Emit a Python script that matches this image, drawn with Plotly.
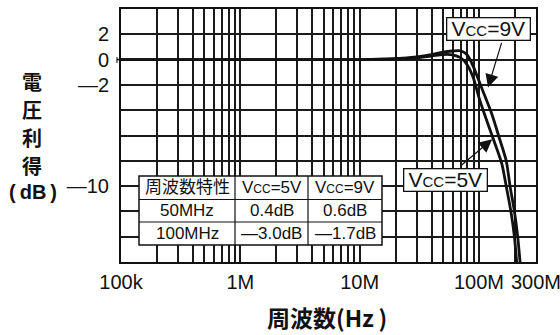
import plotly.graph_objects as go
import numpy as np

# Frequency response data (Hz, dB)
freq_5v = [1e5, 1e6, 1e7, 2e7, 3e7, 4e7, 5e7, 6e7, 7e7, 8e7, 9e7, 1e8,
           1.12e8, 1.32e8, 1.55e8, 1.69e8, 1.85e8, 1.98e8, 2.07e8, 2.15e8]
gain_5v = [0, 0, 0, 0.05, 0.15, 0.28, 0.4, 0.38, 0.15, -0.45, -1.5, -3.0,
           -4.4, -6.3, -8.2, -10.0, -12.0, -14.0, -16.0, -17.5]

freq_9v = [1e5, 1e6, 1e7, 2e7, 3e7, 4e7, 5e7, 6e7, 7e7, 8e7, 9e7, 1e8,
           1.08e8, 1.28e8, 1.48e8, 1.69e8, 1.82e8, 1.98e8, 2.11e8, 2.21e8, 2.3e8]
gain_9v = [0, 0, 0, 0.08, 0.22, 0.4, 0.6, 0.68, 0.7, 0.35, -0.6, -1.7,
           -2.5, -4.3, -6.2, -8.0, -10.0, -12.0, -14.0, -16.0, -17.5]

x_tick_values = [1e5, 1e6, 1e7, 1e8, 3e8]
x_tick_labels = ["100k", "1M", "10M", "100M", "300M"]
y_tick_values = [2, 0, -2, -10]
y_tick_labels = ["2", "0", "—2", "—10"]
y_title_chars = ["電", "圧", "利", "得"]

table_header = ["周波数特性", "V<span style='font-size:12px'>CC</span>=5V",
                "V<span style='font-size:12px'>CC</span>=9V"]
table_rows = [["50MHz", "0.4dB", "0.6dB"],
              ["100MHz", "—3.0dB", "—1.7dB"]]

W, H = 560, 335
L, R, T, B = 121, 24, 9, 73
PW, PH = W - L - R, H - T - B


def px(x):
    return (x - L) / PW


def py(y):
    return (H - B - y) / PH


INK = "#111111"
LATIN = "Liberation Sans, Arial, Noto Sans CJK JP"

fig = go.Figure()
for f, g in [(freq_5v, gain_5v), (freq_9v, gain_9v)]:
    fig.add_trace(go.Scatter(x=f, y=g, mode="lines",
                             line=dict(color=INK, width=2.8, shape="spline", smoothing=0.8),
                             showlegend=False, hoverinfo="skip"))

# log grid: every 1..9 multiple in each decade
grid_vals, grid_text = [], []
for d in range(5, 9):
    for m in range(1, 10):
        v = m * 10 ** d
        if v > 3e8 + 1:
            break
        grid_vals.append(v)
        grid_text.append(x_tick_labels[x_tick_values.index(v)] if v in x_tick_values else "")

y_grid = list(range(-16, 5, 2))
y_text = [y_tick_labels[y_tick_values.index(v)] if v in y_tick_values else "" for v in y_grid]

fig.update_xaxes(type="log", range=[5, np.log10(3e8) + 0.0005], tickvals=grid_vals, ticktext=grid_text,
                 showgrid=True, gridcolor="#1a1a1a", gridwidth=1.5,
                 showline=True, linecolor=INK, linewidth=2, mirror=True,
                 ticks="", ticklabelstandoff=1, ticklabeloverflow="allow", automargin=False,
                 tickfont=dict(family=LATIN, size=20, color=INK), zeroline=False)
fig.update_yaxes(range=[-16, 4], tickvals=y_grid, ticktext=y_text,
                 showgrid=True, gridcolor="#1a1a1a", gridwidth=1.5,
                 showline=True, linecolor=INK, linewidth=2, mirror=True,
                 ticks="", ticklabelstandoff=6, automargin=False,
                 tickfont=dict(family=LATIN, size=20, color=INK), zeroline=False)

shapes = []
# small lead-in mark at 0 dB
shapes.append(dict(type="line", xref="paper", yref="y", x0=px(116.5), x1=px(121), y0=0, y1=0,
                   line=dict(color=INK, width=1.5)))
shapes.append(dict(type="line", xref="paper", yref="paper", x0=px(117), x1=px(117),
                   y0=py(57), y1=py(63), line=dict(color=INK, width=1)))

# table frame
col_edges = [139, 235, 308, 382]
row_edges = [176, 199.5, 222, 245]
shapes.append(dict(type="rect", xref="paper", yref="paper",
                   x0=px(col_edges[0]), x1=px(col_edges[-1]), y0=py(row_edges[-1]), y1=py(row_edges[0]),
                   fillcolor="white", line=dict(color=INK, width=1.5), layer="above"))
for cx in col_edges[1:-1]:
    shapes.append(dict(type="line", xref="paper", yref="paper", x0=px(cx), x1=px(cx),
                       y0=py(row_edges[-1]), y1=py(row_edges[0]), line=dict(color=INK, width=1.2)))
for ry in row_edges[1:-1]:
    shapes.append(dict(type="line", xref="paper", yref="paper", x0=px(col_edges[0]), x1=px(col_edges[-1]),
                       y0=py(ry), y1=py(ry), line=dict(color=INK, width=1.2)))

annotations = []
for r, row in enumerate([table_header] + table_rows):
    for c, txt in enumerate(row):
        annotations.append(dict(xref="paper", yref="paper",
                                x=px((col_edges[c] + col_edges[c + 1]) / 2),
                                y=py((row_edges[r] + row_edges[r + 1]) / 2),
                                text=txt, showarrow=False, xanchor="center", yanchor="middle",
                                font=dict(family=LATIN, size=17, color=INK)))

# curve labels
for label, cx, cy in [("V<span style='font-size:15px'>CC</span>=9V", 488, 29.5),
                      ("V<span style='font-size:15px'>CC</span>=5V", 445, 180)]:
    annotations.append(dict(xref="paper", yref="paper", x=px(cx), y=py(cy), text=label,
                            showarrow=False, xanchor="center", yanchor="middle",
                            font=dict(family=LATIN, size=21, color=INK),
                            bgcolor="white", bordercolor=INK, borderwidth=1.3, borderpad=0,
                            width=82, height=21))

# arrows from labels to curves
for fx, gy, ax, ay in [(1.19e8, -2.2, 14, -46), (1.29e8, -6.3, -32, 27)]:
    annotations.append(dict(xref="x", yref="y", x=np.log10(fx), y=gy, ax=ax, ay=ay,
                            text="", showarrow=True, arrowhead=2, arrowsize=2.2,
                            arrowwidth=1.2, arrowcolor=INK))

# vertical y-axis title, one character per line
for i, ch in enumerate(y_title_chars):
    annotations.append(dict(xref="paper", yref="paper", x=px(32), y=py(81 + 28 * i),
                            text="<b>" + ch + "</b>", showarrow=False,
                            xanchor="center", yanchor="middle",
                            font=dict(family="Noto Sans CJK JP", size=20, color=INK)))
annotations.append(dict(xref="paper", yref="paper", x=px(33), y=py(191.5), text="<b>(\u2009dB\u2009)</b>",
                        showarrow=False, xanchor="center", yanchor="middle",
                        font=dict(family=LATIN, size=20, color=INK)))
annotations.append(dict(xref="paper", yref="paper", x=px(327), y=py(317), text="<b>周波数(Hz\u2009)</b>",
                        showarrow=False, xanchor="center", yanchor="middle",
                        font=dict(family="Noto Sans CJK JP", size=23, color=INK)))

fig.update_layout(width=W, height=H, margin=dict(l=L, r=R, t=T, b=B),
                  paper_bgcolor="white", plot_bgcolor="white",
                  shapes=shapes, annotations=annotations)

fig.write_html("out.html")
